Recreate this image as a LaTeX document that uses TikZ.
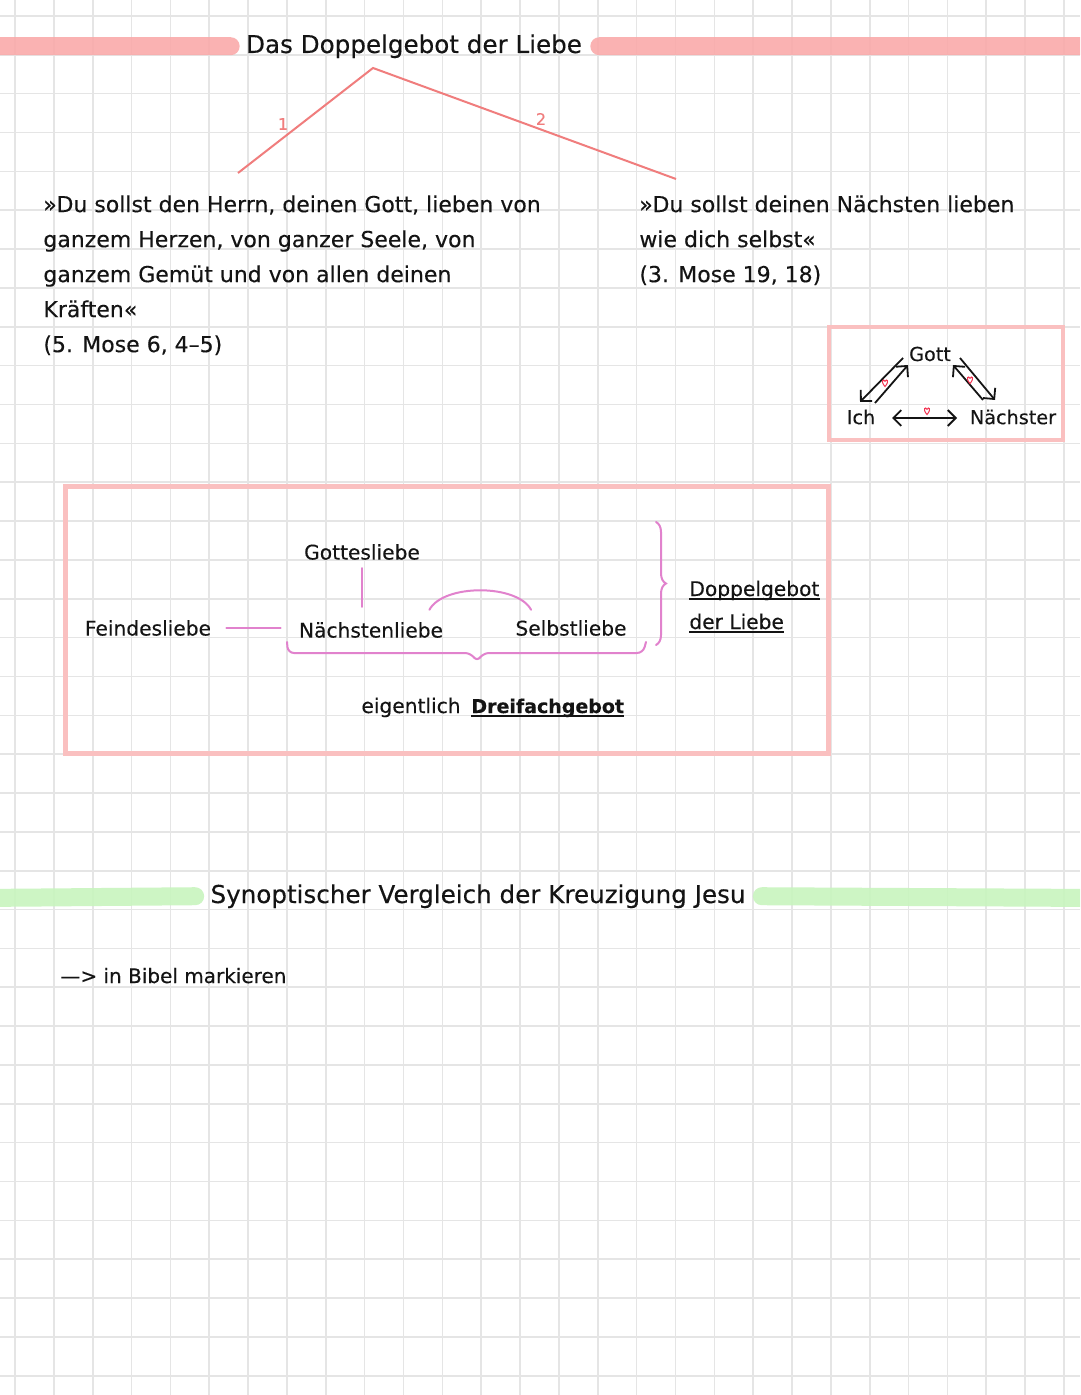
\documentclass[tikz,border=0pt]{standalone}
\usepackage{fontspec}
\setmainfont{DejaVu Sans}[FakeBold=0.25]
\usetikzlibrary{arrows.meta,calc,decorations.pathreplacing}
\definecolor{rosebar}{RGB}{250,170,170}
\definecolor{roseline}{RGB}{240,125,125}
\definecolor{rosebox}{RGB}{250,192,192}
\definecolor{lilac}{RGB}{225,130,205}
\definecolor{mint}{RGB}{200,245,190}
\definecolor{paper}{RGB}{229,229,229}
\definecolor{ink}{RGB}{20,20,20}
\tikzset{
  grid line/.style={draw=paper,line width=0.8pt},
  bar/.style={draw=#1,line width=9pt,line cap=round,opacity=0.9},
  bar/.default=rosebar,
  head/.style={font=\fontsize{12.3}{14}\selectfont,text=ink,inner sep=0pt},
  txt/.style={font=\fontsize{11}{17.5}\selectfont,text=ink,align=left,inner sep=0pt},
  word/.style={font=\fontsize{10.1}{12}\selectfont,text=ink,inner sep=1pt},
  tri/.style={font=\fontsize{9.6}{12}\selectfont,text=ink,inner sep=1pt},
  num/.style={font=\fontsize{8}{8}\selectfont,text=roseline,inner sep=0pt},
  branch/.style={draw=roseline,line width=1pt},
  frame/.style={draw=rosebox,line width=#1},
  frame/.default=2pt,
  link/.style={draw=lilac,line width=1pt,line cap=round},
  barb/.tip={Straight Barb[length=1.4mm,width=2.8mm]},
  duo/.style={-barb,draw=ink,line width=0.9pt},
  pics/heart/.style={code={
    \draw[lilac!40!red,line width=0.5pt] (0,-1.5) .. controls (-1.5,-5) and (-5,-2) .. (0,3.5)
      .. controls (5,-2) and (1.5,-5) .. (0,-1.5);
  }},
}
\begin{document}
\begin{tikzpicture}[x=0.5pt,y=-0.5pt]
  \useasboundingbox (0,0) rectangle (1080,1395);
  \clip (0,0) rectangle (1080,1395);
  \fill[white] (0,0) rectangle (1080,1395);
  % squared paper
  \foreach \i in {0,...,27} \draw[grid line] ({15+38.85*\i},0) -- ++(0,1395);
  \foreach \i in {0,...,35} \draw[grid line] (0,{16+38.85*\i}) -- ++(1080,0);

  % heading 1
  \node[head,anchor=base] (t1) at (414,53) {Das Doppelgebot der Liebe};
  \draw[bar] (-20,46) -- ($(t1.west)+(-15,0)$);
  \draw[bar] ($(t1.east)+(17,0)$) -- (1100,46);

  \coordinate (top) at (373,68);
  \coordinate (l1) at (238,173);
  \coordinate (l2) at (676,179);
  \draw[branch] (l1) -- (top) -- (l2);
  \node[num] (n1) at (283,124) {1};
  \node[num] (n2) at (541,119) {2};

  \node[txt,anchor=north west] (q1) at (43,195) {»Du sollst den Herrn, deinen Gott, lieben von\\ganzem Herzen, von ganzer Seele, von\\ganzem Gemüt und von allen deinen\\Kräften«\\(5. Mose 6, 4–5)};
  \node[txt,anchor=north west] (q2) at (639,195) {»Du sollst deinen Nächsten lieben\\wie dich selbst«\\(3. Mose 19, 18)};

  % triangle
  \draw[frame] (829,327) rectangle (1063,440);
  \node[tri] (g) at (930,354) {Gott};
  \node[tri] (i) at (861,417) {Ich};
  \node[tri] (n) at (1013,417) {Nächster};
  \draw[duo] ($(g)+(-27,4)$) -- ($(i)+(-1,-15)$);
  \draw[duo] ($(i)+(14,-14)$) -- ($(g)+(-22,11)$);
  \draw[duo] ($(g)+(30,4)$) -- ($(n)+(-18,-17)$);
  \draw[duo] ($(n)+(-30,-17)$) -- ($(g)+(23,11)$);
  \draw[duo,barb-barb] ($(i)+(31,1)$) -- ($(n)+(-56,1)$);
  \pic at (885,383) {heart};
  \pic at (970,380) {heart};
  \pic at (927,411) {heart};

  % Dreifachgebot
  \draw[frame=2.5pt] (65,486) rectangle (828,753);
  \node[word] (gl) at (362,552) {Gottesliebe};
  \node[word] (fl) at (148,628) {Feindesliebe};
  \node[word] (nl) at (371,630) {Nächstenliebe};
  \node[word] (sl) at (571,628) {Selbstliebe};
  \node[word,anchor=base west] (d1) at (687,596) {Doppelgebot};
  \node[word,anchor=base west] (d2) at (687,629) {der Liebe};
  \node[word,anchor=base east] (ei) at (463,713) {eigentlich};
  \node[word,anchor=base west,font=\fontsize{9.5}{12}\selectfont\bfseries] (dr) at (469,713) {Dreifachgebot};
  \foreach \w in {d1,d2,dr} \draw[ink,line width=0.8pt] ($(\w.base west)+(2,3)$) -- ($(\w.base east)+(-2,3)$);

  \draw[link,shorten <=6.5pt,shorten >=8pt] (fl.east) -- (fl.east -| nl.west);
  \draw[link,shorten <=3pt,shorten >=6.5pt] (gl.south) -- (gl.south |- nl.north);
  \draw[link] ($(nl.north east)+(-16,-10)$) .. controls +(14,-26) and +(-14,-26) .. ($(sl.north west)+(18,-8)$);
  \coordinate (bl) at (287,642);
  \coordinate (dip) at (477,662);
  \coordinate (br) at (646,642);
  \draw[link,rounded corners=3pt] (bl) -- ++(1,11) -- ++(183,0) -- (dip) -- ++(6,-9) -- ++(160,0) -- (br);
  \coordinate (bt) at (656,522);
  \coordinate (bb) at (656,645);
  \draw[link,decorate,decoration={brace,amplitude=5pt}] (bt) -- (bb);

  % heading 2
  \node[head,anchor=base] (t2) at (478,903) {Synoptischer Vergleich der Kreuzigung Jesu};
  \draw[bar=mint] (-20,898) -- ($(t2.west)+(-15,0)$);
  \draw[bar=mint] ($(t2.east)+(16,0)$) -- (1100,898);

  \node[word,anchor=base west,font=\fontsize{10}{12}\selectfont] (bm) at (58,983) {—> in Bibel markieren};
\end{tikzpicture}
\end{document}
